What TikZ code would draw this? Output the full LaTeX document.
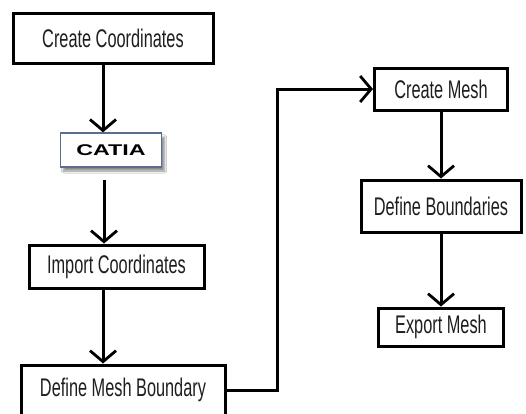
\documentclass[tikz,border=0pt]{standalone}
\usepackage{fontspec}
\setmainfont{Liberation Sans}
\newfontfamily\lblfont{Liberation Sans}[FakeStretch=0.64]
\newfontfamily\catiafont{Liberation Sans}[FakeStretch=1.5]
\usetikzlibrary{arrows.meta,shadows.blur}
\definecolor{txtgray}{RGB}{30,30,30}
\definecolor{catiablue}{RGB}{90,110,145}
\begin{document}
\begin{tikzpicture}[x=1pt,y=-1pt,
  stepbox/.style={draw=black,line width=3pt,fill=white,text=txtgray,
    font=\lblfont\fontsize{25.5}{27}\selectfont,inner sep=0pt,anchor=center},
  catiabox/.style={draw=catiablue,line width=1.3pt,fill=white,text=black,
    font=\catiafont\bfseries\fontsize{15.5}{17}\selectfont,inner sep=0pt,
    minimum width=101pt,minimum height=34pt,
    blur shadow={shadow xshift=3pt,shadow yshift=-4pt,shadow opacity=45,shadow blur steps=8}},
  arr/.style={line width=3pt,draw=black,
    -{Straight Barb[length=11pt,width=26pt,line width=2.8pt]}}]
\useasboundingbox (0,0) rectangle (526,413);
\clip (0,0) rectangle (526,413);
\fill[white] (0,0) rectangle (526,413);

\node[stepbox,minimum width=200pt,minimum height=50pt] (cc) at (113,38) {Create Coordinates};
\node[catiabox] (catia) at (111,150) {CATIA};
\node[stepbox,minimum width=175pt,minimum height=43pt] (ic) at (116.5,266.5) {Import Coordinates};
\node[stepbox,minimum width=204pt,minimum height=50pt] (dmb) at (123,390) {Define Mesh Boundary};
\node[stepbox,minimum width=133pt,minimum height=42pt] (cm) at (441,89) {Create Mesh};
\node[stepbox,minimum width=160pt,minimum height=52pt] (db) at (441,206) {Define Boundaries};
\node[stepbox,minimum width=125pt,minimum height=38pt] (em) at (441,327) {Export Mesh};

\coordinate (below) at (104,180);
\coordinate (bend) at (277,0);

\draw[arr] ([xshift=-10pt]cc.south) -- ([xshift=-10pt]cc.south |- catia.north);
\draw[arr] (below) -- (below |- ic.north);
\draw[arr] ([xshift=-13.5pt]ic.south) -- ([xshift=-13.5pt]ic.south |- dmb.north);
\draw[arr] (dmb.east) -| (bend |- cm.west) -- (cm.west);
\draw[arr] (cm.south) -- (db.north);
\draw[arr] (db.south) -- (em.north);
\end{tikzpicture}
\end{document}
